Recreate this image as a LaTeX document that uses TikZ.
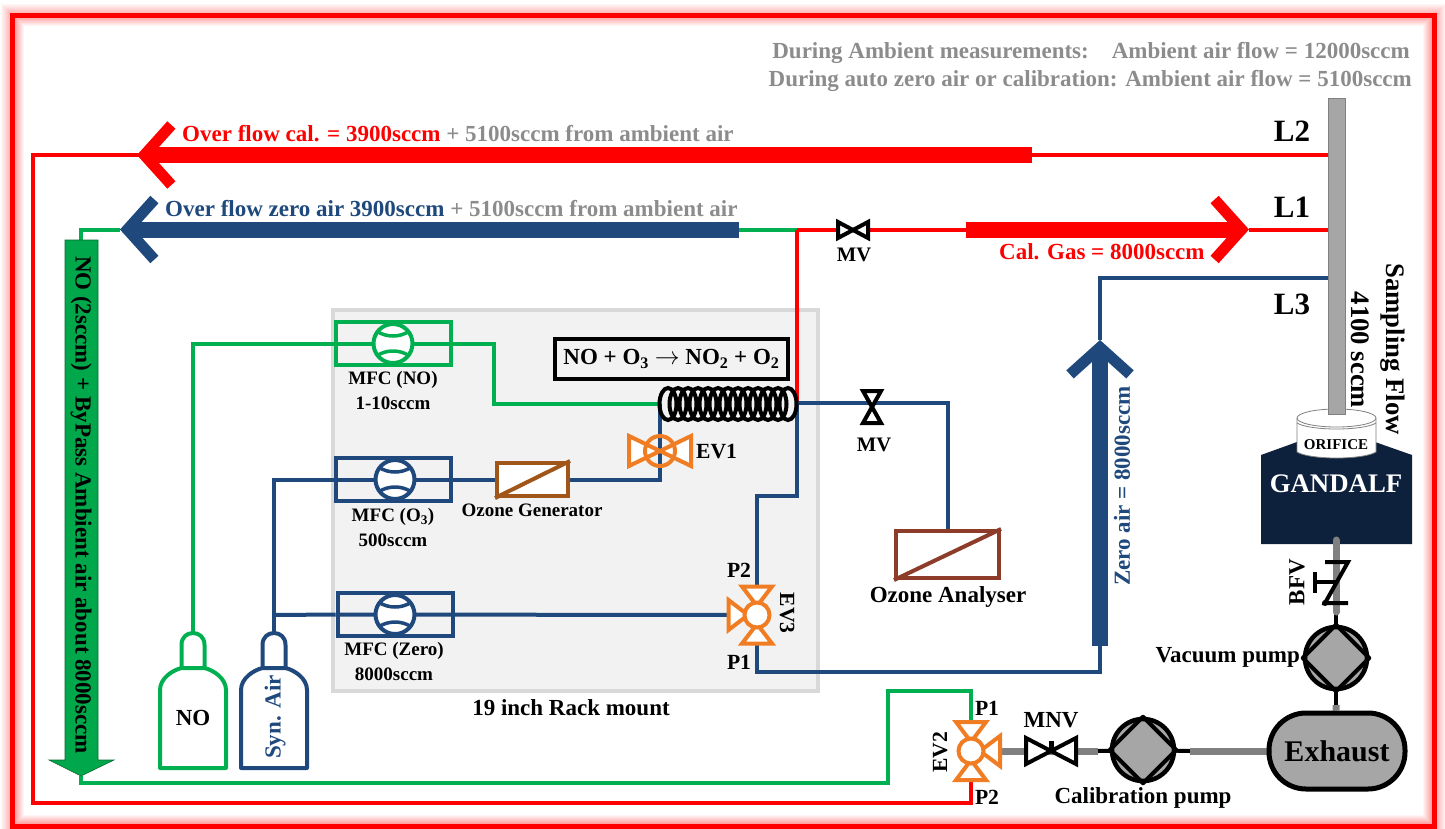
\documentclass[tikz,border=0pt]{standalone}
\usepackage{fontspec}
\setmainfont{Liberation Serif}
\usepackage{xcolor}
\usetikzlibrary{arrows.meta,positioning,calc,backgrounds}
\definecolor{pipered}{RGB}{255,0,0}
\definecolor{pipegreen}{RGB}{0,176,80}
\definecolor{pipeblue}{RGB}{31,73,125}
\definecolor{tubegray}{RGB}{166,166,166}
\definecolor{notegray}{RGB}{140,140,140}
\definecolor{valveorange}{RGB}{240,125,35}
\definecolor{rackfill}{RGB}{242,242,242}
\definecolor{rackline}{RGB}{217,217,217}
\definecolor{gennbrown}{RGB}{160,85,25}
\definecolor{analysbrown}{RGB}{140,60,40}
\definecolor{gandalfnavy}{RGB}{13,33,60}
\definecolor{bypassgreen}{RGB}{0,168,75}
\newcommand{\fs}[1]{\bfseries\fontsize{#1}{#1}\selectfont}
\newcommand{\mfcarcs}[2]{\draw[line width=3.5pt, #2] ($(#1)+(-16,-12)$) .. controls ($(#1)+(-6,-6)$) and ($(#1)+(6,-6)$) .. ($(#1)+(16,-12)$);
  \draw[line width=3.5pt, #2] ($(#1)+(-16,12)$) .. controls ($(#1)+(-6,6)$) and ($(#1)+(6,6)$) .. ($(#1)+(16,12)$);}

\begin{document}
\begin{tikzpicture}[
    x=1pt, y=-1pt,
    lab/.style={font=\fs{19}, inner sep=0pt},
    biglab/.style={font=\fs{23}, inner sep=0pt},
    flowtext/.style={font=\fs{23}, inner sep=0pt, anchor=west},
    linelab/.style={font=\fs{31}, inner sep=0pt},
    redline/.style={draw=pipered, line width=4pt},
    greenline/.style={draw=pipegreen, line width=4pt},
    blueline/.style={draw=pipeblue, line width=4pt},
    grayline/.style={draw=gray, line width=7pt},
    blackline/.style={draw=black, line width=4pt},
    flowarrow/.style={draw=#1, line width=16pt, -{Straight Barb[length=27pt,width=60pt,line width=11pt]}},
    mfc/.style={draw=#1, line width=4pt, minimum width=115pt, minimum height=43pt, inner sep=0pt},
    mfcwheel/.style={draw=#1, fill=white, circle, line width=4pt, minimum size=39pt, inner sep=0pt},
    valvearm/.style={draw=valveorange, fill=white, line width=4pt, line join=miter},
    valvehub/.style={draw=valveorange, fill=white, circle, line width=4pt, minimum size=25pt, inner sep=0pt},
    handvalve/.style={draw=black, fill=white, line width=4pt, line join=miter},
    pump/.style={draw=black, fill=tubegray, circle, line width=4.5pt, minimum size=62pt, inner sep=0pt},
    bottle/.style={draw=#1, fill=white, line width=4pt, line join=round}
]
\useasboundingbox (0,0) rectangle (1445,828);
\foreach \i in {1,...,12} {
  \pgfmathsetmacro{\glow}{max(48-4*\i,0)}
  \draw[draw=red!\glow!white, line width=1.2pt] (12.5+\i,15+\i) rectangle (1434.5-\i,826-\i);
  \pgfmathsetmacro{\glowout}{max(36-3*\i,0)}
  \draw[draw=red!\glowout!white, line width=1.2pt] (12.5-\i,15-\i) rectangle (1434.5+\i,826+\i);
}
\draw[draw=pipered, line width=5pt] (12.5,15) rectangle (1434.5,826);

\node[biglab, anchor=east, text=notegray] (ambient) at (1410,52.5) {During Ambient measurements:\hspace{23pt}Ambient air flow = 12000sccm};
\node[biglab, anchor=east, text=notegray] (autozero) at (1412,80.5) {During auto zero air or calibration: Ambient air flow = 5100sccm};
\node[flowtext] (ovcal) at (182,133.5) {\textcolor{pipered}{Over flow cal. = 3900sccm} \textcolor{notegray}{+ 5100sccm from ambient air}};
\node[flowtext] (ovzero) at (165,208.5) {\textcolor{pipeblue}{Over flow zero air 3900sccm} \textcolor{notegray}{+ 5100sccm from ambient air}};
\node[flowtext, text=pipered] (calgas) at (999,251.5) {Cal. Gas = 8000sccm};
\node[biglab, rotate=90, text=pipeblue] (zeroair) at (1122,486) {Zero air = 8000sccm};
\node[linelab] (ltwo) at (1292,131) {L2};
\node[linelab] (lone) at (1292,207) {L1};
\node[linelab] (lthree) at (1292,304) {L3};

\node[draw=gray, fill=tubegray, line width=0.8pt, minimum width=17pt, minimum height=317pt, inner sep=0pt] (tube) at (1336.5,256.5) {};

\fill[gandalfnavy] (1261,455) -- (1297,442) -- (1375,442) -- (1412,455) -- (1412,544) -- (1261,544) -- cycle;
\draw[draw=gray, fill=white, line width=0.8pt] (1297,418) -- (1297,452) .. controls (1310,460) and (1363,460) .. (1376,452) -- (1376,418);
\draw[draw=gray, fill=white, line width=0.8pt] (1336.5,418) ellipse (39.5 and 9);
\draw[draw=gray, line width=0.8pt] (1297,423) .. controls (1310,431) and (1363,431) .. (1376,423);
\fill[tubegray] (1328,396) rectangle (1345,414);
\draw[draw=gray, line width=0.8pt] (1328,396) -- (1328,414) -- (1345,414) -- (1345,396);
\node[lab, font=\fs{15}] (orifice) at (1336,445) {ORIFICE};
\node[lab, font=\fs{26.8}, text=white] (gandalf) at (1336,484) {GANDALF};
\node[lab, font=\fs{26.7}, rotate=-90] (sampling) at (1393,349) {Sampling Flow};
\node[lab, font=\fs{26.7}, rotate=-90] (sampleflow) at (1360,350) {4100 sccm};

\fill[bypassgreen, draw=pipegreen!60!black, line width=0.6pt] (65,240) -- (98,240) -- (98,760) -- (114,760) -- (81,776) -- (49,760) -- (65,760) -- cycle;
\node[biglab, rotate=-90] (bypasstext) at (81,505) {NO (2sccm) + ByPass Ambient air about 8000sccm};

\foreach \cx/\col in {193/pipegreen,274/pipeblue} {
  \begin{scope}[shift={(\cx,0)}]
  \draw[bottle=\col] (-11.5,668) -- (-11.5,645) .. controls (-11.5,637) and (-6,633) .. (0,633) .. controls (6,633) and (11.5,637) .. (11.5,645) -- (11.5,668);
  \draw[bottle=\col] (-33,768) -- (-33,690) .. controls (-33,678) and (-20,670) .. (-11.5,668) -- (11.5,668) .. controls (20,670) and (33,678) .. (33,690) -- (33,768) -- cycle;
  \end{scope}
}
\node[biglab] (nobottle) at (193,718) {NO};
\node[biglab, rotate=90, text=pipeblue] (synair) at (275,717) {Syn. Air};

\node[mfc=pipegreen] (mfcno) at (393,343.5) {};
\node[mfc=pipeblue] (mfco) at (393,479.5) {};
\node[mfc=pipeblue] (mfczero) at (395,614.5) {};
\node[mfcwheel=pipegreen] (wheelno) at (393,343.5) {};
\node[mfcwheel=pipeblue] (wheelo) at (395,479.5) {};
\node[mfcwheel=pipeblue] (wheelzero) at (395,614.5) {};
\mfcarcs{wheelno}{pipegreen}
\mfcarcs{wheelo}{pipeblue}
\mfcarcs{wheelzero}{pipeblue}
\node[lab] (mfcnolab) at (393,380) {MFC (NO)};
\node[lab] (mfcnorate) at (393,403) {1-10sccm};
\node[lab] (mfcolab) at (393,517) {MFC (O\textsubscript{3})};
\node[lab] (mfcorate) at (393,540) {500sccm};
\node[lab] (mfczerolab) at (394,651) {MFC (Zero)};
\node[lab] (mfczerorate) at (394,674) {8000sccm};
\node[biglab] (racklab) at (571,708) {19 inch Rack mount};

\node[draw=gennbrown, fill=white, line width=4pt, minimum width=71pt, minimum height=33pt, inner sep=0pt] (ozonegen) at (532.5,479.5) {};
\draw[draw=gennbrown, line width=4pt] (ozonegen.south west) -- (ozonegen.north east);
\node[lab] (ozonegenlab) at (532,510) {Ozone Generator};
\node[draw=analysbrown, fill=white, line width=4pt, minimum width=103pt, minimum height=47pt, inner sep=0pt] (analyser) at (947.5,554.5) {};
\draw[draw=analysbrown, line width=4pt] (analyser.south west) -- (analyser.north east);
\node[biglab] (analyserlab) at (948,597) {Ozone Analyser};

\node[draw=black, line width=4pt, minimum width=233pt, minimum height=40pt, inner sep=0pt, font=\fs{23}] (reaction) at (671.5,359) {NO + O\textsubscript{3} $\rightarrow$ NO\textsubscript{2} + O\textsubscript{2}};

\foreach \i in {0,...,12} {
  \draw[draw=black, line width=4pt] (668+\i*10,404) ellipse (8.5 and 16);
}
\coordinate (coilin) at (660,404);
\coordinate (coilout) at (797,403);

\foreach \ang in {0,180} {
  \draw[valvearm, shift={(660,451)}, rotate=\ang] (0,0) -- (31,-15) -- (31,15) -- cycle;
}
\node[draw=valveorange, circle, line width=4pt, minimum size=30pt, inner sep=0pt] (evone) at (660,451) {};
\node[biglab, font=\fs{21.6}, anchor=west] (evonelab) at (696,452) {EV1};

\foreach \ang in {90,180,270} {
  \draw[valvearm, shift={(757,615)}, rotate=\ang] (9,0) -- (28.5,-15) -- (28.5,15) -- cycle;
}
\node[valvehub] (evthree) at (757,615) {};
\node[biglab, font=\fs{21.6}, rotate=-90] (evthreelab) at (787,613) {EV3};
\node[biglab, font=\fs{21.6}] (ptwolab) at (739,570) {P2};
\node[biglab, font=\fs{21.6}] (ponelab) at (739,662) {P1};

\foreach \ang in {0,90,270} {
  \draw[valvearm, shift={(971,751)}, rotate=\ang] (9,0) -- (29,-15) -- (29,15) -- cycle;
}
\node[valvehub] (evtwo) at (971,751) {};
\node[biglab, font=\fs{21.6}, rotate=90] (evtwolab) at (940,752) {EV2};
\node[biglab, font=\fs{21.6}] (evponelab) at (987,708) {P1};
\node[biglab, font=\fs{21.6}] (evptwolab) at (987,797) {P2};

\foreach \ang in {0,180} {
  \draw[handvalve, shift={(853,230)}, rotate=\ang] (0,0) -- (15,-8) -- (15,8) -- cycle;
  \draw[handvalve, shift={(872,407)}, rotate=\ang+90] (0,0) -- (16,-9) -- (16,9) -- cycle;
  \draw[handvalve, shift={(1051,751)}, rotate=\ang] (0,0) -- (25,-13) -- (25,13) -- cycle;
}
\coordinate (mvgas) at (853,230);
\coordinate (mvanalyser) at (872,407);
\coordinate (mnv) at (1051,751);
\node[biglab, font=\fs{20.6}] (mvgaslab) at (854,255) {MV};
\node[biglab, font=\fs{20.6}] (mvanalyserlab) at (874,445) {MV};
\node[biglab] (mnvlab) at (1051,720) {MNV};
\draw[draw=black, line width=5pt] (1051,741) -- (mnv);

\node[pump] (vacpump) at (1336,658) {};
\node[pump] (calpump) at (1143,750) {};
\foreach \pumpname in {vacpump,calpump} {
  \draw[draw=black, line width=4pt, line join=round] (\pumpname.north) -- (\pumpname.east) -- (\pumpname.south) -- (\pumpname.west) -- cycle;
}
\node[biglab, anchor=east] (vacpumplab) at (1300,657) {Vacuum pump};
\node[biglab] (calpumplab) at (1143,798) {Calibration pump};
\node[draw=black, fill=tubegray, rounded corners=37pt, line width=5pt, minimum width=136pt, minimum height=76pt, inner sep=0pt, font=\fs{30}] (exhaust) at (1337,751) {Exhaust};

\node[biglab, rotate=90] (bfvlab) at (1297,582) {BFV};
\coordinate (bfvtop) at (1336,562);
\coordinate (bfvbottom) at (1336,603);
\coordinate (gandalfout) at (1336,540);

\coordinate (ltwoin) at (1329,155);
\coordinate (ltwofar) at (33,803);
\coordinate (ltwoarrowstart) at (1032,155);
\coordinate (ltwoarrowtip) at (137,155);
\coordinate (loneout) at (1329,229.5);
\coordinate (loneturn) at (797,229.5);
\coordinate (lonearrowstart) at (966,229.5);
\coordinate (lonearrowtip) at (1249,229.5);
\coordinate (zeroarrowstart) at (739,229.5);
\coordinate (zeroarrowtip) at (120,229.5);
\coordinate (bypasstop) at (81,240);
\coordinate (bypassbottom) at (81,776);
\coordinate (greenbend) at (888,691);
\coordinate (greenfoot) at (888,783);
\coordinate (lthreein) at (1329,278);
\coordinate (lthreearrowtip) at (1100,340);
\coordinate (lthreearrowstart) at (1100,646);
\coordinate (zerobottom) at (757,672);
\coordinate (zeroupper) at (757,496);
\coordinate (noneck) at (193,633);
\coordinate (airneck) at (274,633);
\coordinate (airbranch) at (274,615);
\coordinate (pumpcalin) at (1098,751);
\coordinate (pumpcalout) at (1190,751);
\coordinate (exhausttop) at (1336,705);
\coordinate (vacin) at (1336,612);

\begin{scope}[on background layer]
\node[draw=rackline, fill=rackfill, line width=4pt, minimum width=485pt, minimum height=381pt, inner sep=0pt] (rack) at (575.5,500.5) {};
\draw[redline] (ltwoin) -- (ltwoarrowtip) -| (ltwofar) -| (evtwo);
\draw[flowarrow=pipered] (ltwoarrowstart) -- (ltwoarrowtip);
\draw[redline] (loneout) -- (lonearrowtip);
\draw[redline] (lonearrowstart) -- (loneturn);
\draw[flowarrow=pipered] (lonearrowstart) -- (lonearrowtip);
\draw[greenline] (loneturn) -- (zeroarrowstart);
\draw[flowarrow=pipeblue] (zeroarrowstart) -- (zeroarrowtip);
\draw[greenline] (zeroarrowtip) -| (bypasstop);
\draw[greenline] (bypassbottom) |- (greenfoot) -- (greenbend) -| (evtwo);
\draw[redline] (loneturn) -- (coilout);
\draw[blueline] (coilout) -| (analyser.north);
\draw[blueline] (coilout) |- (zeroupper) -- (evthree);
\draw[blueline] (evthree) |- (zerobottom) -| (lthreearrowstart);
\draw[flowarrow=pipeblue] (lthreearrowstart) -- (lthreearrowtip);
\draw[blueline] (lthreein) -| (lthreearrowtip);
\draw[greenline] (noneck) |- (mfcno.west);
\draw[greenline] (mfcno.west) -- (mfcno.east) -| (494,404) -- (coilin);
\draw[blueline] (airneck) |- (mfco.west);
\draw[blueline] (airbranch) -- (mfczero.west);
\draw[blueline] (mfco.west) -- (ozonegen.west);
\draw[blueline] (ozonegen.east) -| (coilin);
\draw[blueline] (mfczero.west) -- (evthree);
\draw[grayline] (evtwo) -- (mnv);
\draw[grayline] (mnv) -- (pumpcalin);
\draw[blackline] (pumpcalin) -- (calpump);
\draw[blackline] (calpump) -- (pumpcalout);
\draw[grayline] (pumpcalout) -- (exhaust);
\draw[blackline] (vacpump) -- (exhausttop);
\draw[grayline] (exhausttop) -- (exhaust);
\draw[blackline] (vacin) -- (vacpump);
\end{scope}

\draw[grayline, line cap=round] (gandalfout) -- (vacin);
\draw[draw=black, line width=4pt, line join=miter] (1325,562) -- (1348,562) -- (1325,603) -- (1348,603);
\draw[draw=black, line width=4pt] (1315,582) -- (1336,582);
\draw[draw=black, line width=4pt] (1315,572) -- (1315,593);
\fill[black] (1325,603) circle (3);
\end{tikzpicture}
\end{document}
